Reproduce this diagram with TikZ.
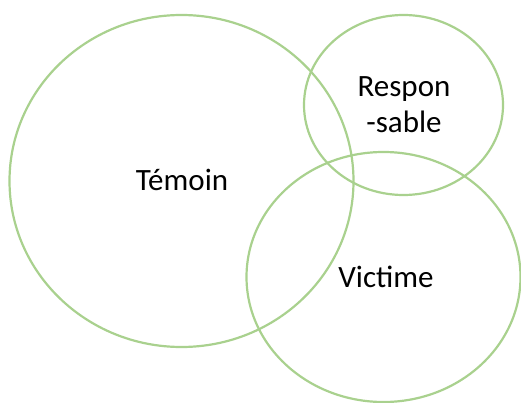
\documentclass[tikz,border=0pt]{standalone}
\usepackage{fontspec}
\setmainfont{Carlito}
\definecolor{ringgreen}{HTML}{A9D18E}
\begin{document}
\begin{tikzpicture}[x=1pt,y=-1pt,
  ring/.style={draw=ringgreen,line width=2.2pt},
  lbl/.style={font=\fontsize{31}{36}\selectfont,text=black,inner sep=0pt,anchor=base,align=center}]
\useasboundingbox (0,0) rectangle (521,403);
\draw[ring] (181.5,181) ellipse [x radius=172, y radius=166];
\draw[ring] (403.5,105) ellipse [x radius=99.5, y radius=90];
\draw[ring] (383.5,277) ellipse [x radius=137, y radius=125];
\node[lbl] (temoin) at (182,190) {Témoin};
\node[lbl] (resp1) at (404,97) {Respon};
\node[lbl] (resp2) at (404,133) {-sable};
\node[lbl] (victime) at (386,287) {Victime};
\end{tikzpicture}
\end{document}
